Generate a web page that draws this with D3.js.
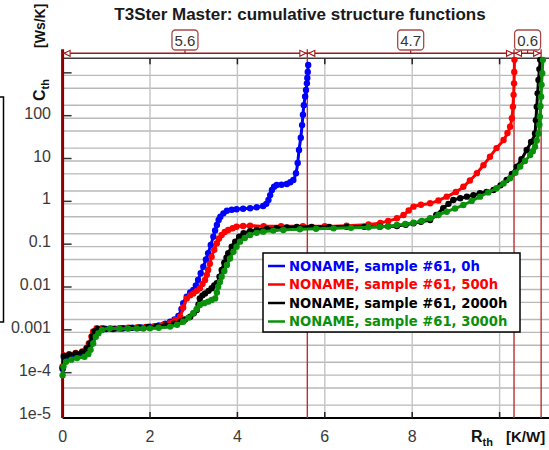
<!DOCTYPE html>
<html><head><meta charset="utf-8">
<script src="https://cdn.jsdelivr.net/npm/d3@7"></script>
<style>body{margin:0;background:#fff}svg{display:block}</style>
</head><body><svg id="c" width="549" height="450"></svg>
<script>
const chartTitle = "T3Ster Master: cumulative structure functions";
const seriesNames = ["NONAME, sample #61, 0h", "NONAME, sample #61, 500h", "NONAME, sample #61, 2000h", "NONAME, sample #61, 3000h"];
const seriesColors = ["#0000ff", "#ff0000", "#000000", "#0a900a"];
const xTickValues = [0, 2, 4, 6, 8];
const xGridValues = [2, 4, 6, 8, 10];
const yTickValues = [1e-5, 1e-4, 1e-3, 1e-2, 0.1, 1, 10, 100];
const yTickLabels = ["1e-5", "1e-4", "0.001", "0.01", "0.1", "1", "10", "100"];
const markerR = [0, 5.6, 10.33, 10.95];

const data0h = [[0,1.4e-4],[0.03,2.6e-4],[0.15,2.7e-4],[0.3,2.9e-4],[0.45,3.2e-4],[0.55,3.8e-4],[0.62,5.2e-4],[0.68,8e-4],[0.75,1.05e-3],[0.85,1.15e-3],[1.0,1.2e-3],[1.2,1.22e-3],[1.4,1.25e-3],[1.6,1.28e-3],[1.8,1.3e-3],[2.0,1.35e-3],[2.2,1.45e-3],[2.35,1.6e-3],[2.46,1.77e-3],[2.56,2.0e-3],[2.65,2.4e-3],[2.72,3.5e-3],[2.76,4.8e-3],[2.84,6.8e-3],[2.92,8.5e-3],[2.99,9.8e-3],[3.05,0.0125],[3.1,0.0167],[3.16,0.024],[3.22,0.034],[3.28,0.05],[3.33,0.07],[3.39,0.11],[3.45,0.17],[3.49,0.24],[3.53,0.32],[3.57,0.42],[3.61,0.5],[3.68,0.6],[3.76,0.69],[3.87,0.73],[3.98,0.75],[4.13,0.77],[4.29,0.79],[4.44,0.83],[4.59,0.89],[4.66,1.0],[4.71,1.23],[4.75,1.6],[4.79,2.1],[4.84,2.5],[4.9,2.75],[5.01,2.8],[5.13,2.9],[5.21,3.2],[5.28,3.6],[5.34,5.2],[5.38,9],[5.41,18],[5.45,35],[5.48,69],[5.5,120],[5.52,200],[5.55,320],[5.57,455],[5.59,650],[5.6,870],[5.61,1200],[5.62,1750]];
const data500h = [[0,1.6e-4],[0.03,2.9e-4],[0.15,3.1e-4],[0.3,3.3e-4],[0.45,3.6e-4],[0.55,4.3e-4],[0.6,5.5e-4],[0.66,8e-4],[0.7,1.05e-3],[0.78,1.25e-3],[0.9,1.25e-3],[1.1,1.22e-3],[1.3,1.25e-3],[1.5,1.28e-3],[1.7,1.3e-3],[1.9,1.33e-3],[2.1,1.4e-3],[2.3,1.5e-3],[2.46,1.63e-3],[2.58,1.95e-3],[2.69,2.32e-3],[2.76,3.8e-3],[2.84,6.2e-3],[2.92,7.3e-3],[2.99,8.1e-3],[3.07,9.3e-3],[3.14,0.0107],[3.2,0.0135],[3.26,0.0167],[3.3,0.022],[3.33,0.0286],[3.37,0.04],[3.41,0.058],[3.47,0.085],[3.53,0.12],[3.58,0.155],[3.64,0.187],[3.71,0.22],[3.79,0.245],[3.89,0.27],[3.98,0.293],[4.13,0.305],[4.29,0.31],[4.6,0.3],[5.0,0.3],[5.5,0.3],[6.0,0.3],[6.5,0.31],[7.0,0.33],[7.27,0.36],[7.45,0.4],[7.65,0.46],[7.8,0.55],[7.92,0.7],[8.03,0.86],[8.2,0.95],[8.41,1.03],[8.6,1.2],[8.79,1.47],[9.0,1.9],[9.17,2.5],[9.32,3.5],[9.48,5.2],[9.63,8],[9.78,12.6],[9.93,20],[10.09,31],[10.18,45],[10.24,63],[10.28,100],[10.305,185],[10.32,350],[10.33,650],[10.335,1200],[10.34,2300]];
const data2000h = [[0,1.5e-4],[0.03,2.8e-4],[0.15,3.0e-4],[0.3,3.2e-4],[0.45,3.5e-4],[0.55,4.2e-4],[0.62,5.5e-4],[0.68,8e-4],[0.73,1.05e-3],[0.8,1.2e-3],[0.95,1.22e-3],[1.15,1.2e-3],[1.35,1.23e-3],[1.55,1.27e-3],[1.75,1.3e-3],[1.95,1.33e-3],[2.15,1.38e-3],[2.35,1.45e-3],[2.55,1.6e-3],[2.69,1.77e-3],[2.8,2.0e-3],[2.92,2.32e-3],[3.0,2.8e-3],[3.07,3.33e-3],[3.11,4.5e-3],[3.14,6.2e-3],[3.2,7.3e-3],[3.26,8.1e-3],[3.34,9.3e-3],[3.41,0.0107],[3.47,0.0125],[3.53,0.014],[3.59,0.02],[3.64,0.0286],[3.7,0.042],[3.75,0.055],[3.79,0.07],[3.87,0.1],[3.95,0.13],[4.04,0.17],[4.14,0.205],[4.29,0.23],[4.44,0.245],[4.67,0.26],[4.9,0.269],[5.13,0.28],[5.36,0.29],[5.7,0.29],[6.1,0.29],[6.5,0.29],[6.9,0.29],[7.26,0.293],[7.45,0.298],[7.65,0.304],[7.85,0.325],[8.03,0.352],[8.2,0.38],[8.41,0.42],[8.55,0.55],[8.71,0.79],[8.83,1.0],[8.94,1.23],[9.1,1.35],[9.25,1.47],[9.4,1.6],[9.55,1.76],[9.7,1.9],[9.86,2.1],[10.02,2.7],[10.16,3.6],[10.28,5],[10.39,7.4],[10.5,11],[10.62,18],[10.72,28],[10.81,44],[10.83,90],[10.85,185],[10.87,380],[10.89,780],[10.91,1400],[10.93,2300]];
const data3000h = [[0,1.0e-4],[0.02,1.6e-4],[0.08,2.06e-4],[0.2,2.3e-4],[0.33,2.5e-4],[0.5,2.7e-4],[0.59,3.1e-4],[0.64,3.9e-4],[0.7,5.5e-4],[0.76,7.9e-4],[0.82,9.5e-4],[0.9,1.13e-3],[1.08,1.24e-3],[1.3,1.22e-3],[1.5,1.22e-3],[1.7,1.23e-3],[1.85,1.23e-3],[2.0,1.24e-3],[2.2,1.28e-3],[2.46,1.36e-3],[2.62,1.5e-3],[2.76,1.77e-3],[2.88,2.2e-3],[2.99,2.79e-3],[3.07,3.5e-3],[3.14,4.35e-3],[3.24,4.8e-3],[3.33,5.2e-3],[3.41,5.7e-3],[3.49,6.2e-3],[3.53,8.5e-3],[3.56,0.0116],[3.6,0.015],[3.64,0.0199],[3.7,0.027],[3.76,0.0373],[3.83,0.053],[3.91,0.076],[3.98,0.1],[4.06,0.131],[4.17,0.16],[4.29,0.187],[4.44,0.21],[4.59,0.224],[4.82,0.237],[5.05,0.245],[5.43,0.255],[5.8,0.262],[6.2,0.268],[6.6,0.275],[7.0,0.283],[7.26,0.29],[7.45,0.3],[7.65,0.32],[7.84,0.34],[8.03,0.363],[8.22,0.4],[8.41,0.46],[8.6,0.55],[8.79,0.656],[8.98,0.78],[9.17,0.94],[9.36,1.17],[9.55,1.47],[9.74,1.85],[9.93,2.31],[10.09,3.0],[10.24,3.95],[10.36,5.3],[10.47,7.4],[10.58,10],[10.7,13.8],[10.76,17],[10.81,21.6],[10.85,30],[10.89,44],[10.91,70],[10.92,108],[10.935,190],[10.95,318],[10.96,600],[10.975,1117],[10.99,2300]];
const allSeries = [data0h, data500h, data2000h, data3000h];

const svg = d3.select("#c");
const W = 549, H = 450;
const x = d3.scaleLinear().domain([0, 11.05]).range([62.6, 545.5]);
const y = d3.scaleLog().domain([1e-5, 2500]).range([418, 58.3]);
const plotRight = 549, plotTop = 58.3, plotBottom = 418;

svg.append("rect").attr("width", W).attr("height", H).attr("fill", "#fff");

svg.append("text").attr("x", 300).attr("y", 20).attr("text-anchor", "middle")
  .attr("font-family", "'Liberation Sans', Arial, sans-serif").attr("font-weight", "bold")
  .attr("font-size", 17).attr("fill", "#1a1a1a").text(chartTitle);

svg.append("rect").attr("x", -10).attr("y", 97).attr("width", 13.5).attr("height", 225)
  .attr("fill", "none").attr("stroke", "#000").attr("stroke-width", 1.5);

const gridY = [];
for (let k = -5; k <= 3; k++) [1, 2, 5].forEach(m => { const v = m * Math.pow(10, k); if (v > 1e-5 && v <= 1000) gridY.push(v); });
svg.append("g").selectAll("line").data(gridY).join("line")
  .attr("x1", x(0)).attr("x2", plotRight).attr("y1", d => y(d)).attr("y2", d => y(d))
  .attr("stroke", "#b9b9b9").attr("stroke-width", 1.4);
svg.append("g").selectAll("line").data(xGridValues).join("line")
  .attr("x1", d => x(d)).attr("x2", d => x(d)).attr("y1", plotTop).attr("y2", plotBottom)
  .attr("stroke", "#c4c4c4").attr("stroke-width", 1.4);

svg.append("line").attr("x1", x(0)).attr("x2", plotRight).attr("y1", plotTop).attr("y2", plotTop)
  .attr("stroke", "#3c3c3c").attr("stroke-width", 1.5);
svg.append("line").attr("x1", x(0)).attr("x2", plotRight).attr("y1", plotBottom).attr("y2", plotBottom)
  .attr("stroke", "#000").attr("stroke-width", 2);
svg.append("g").selectAll("line").data(xGridValues).join("line")
  .attr("x1", d => x(d)).attr("x2", d => x(d)).attr("y1", plotTop).attr("y2", plotTop + 6)
  .attr("stroke", "#222").attr("stroke-width", 1.5);
svg.append("g").selectAll("line").data(xGridValues).join("line")
  .attr("x1", d => x(d)).attr("x2", d => x(d)).attr("y1", plotBottom).attr("y2", plotBottom - 6)
  .attr("stroke", "#222").attr("stroke-width", 1.5);
const yDecades = [1e-4, 1e-3, 1e-2, 0.1, 1, 10, 100, 1000];
svg.append("g").selectAll("line").data(yDecades).join("line")
  .attr("x1", x(0)).attr("x2", x(0) + 9).attr("y1", d => y(d) - 2.5).attr("y2", d => y(d) - 2.5)
  .attr("stroke", "#333").attr("stroke-width", 1.5);

svg.append("g").selectAll("text").data(yTickValues).join("text")
  .attr("x", 51).attr("y", d => y(d) - 5).attr("text-anchor", "end").attr("dominant-baseline", "central")
  .attr("font-family", "'Liberation Sans', Arial, sans-serif").attr("font-size", 16).attr("fill", "#3a3a3a")
  .text((d, i) => yTickLabels[i]);
svg.append("g").selectAll("text").data(xTickValues).join("text")
  .attr("x", d => x(d)).attr("y", 442).attr("text-anchor", "middle")
  .attr("font-family", "'Liberation Sans', Arial, sans-serif").attr("font-size", 16).attr("fill", "#3a3a3a")
  .text(d => d);

const xl = svg.append("text").attr("x", 471).attr("y", 442)
  .attr("font-family", "'Liberation Sans', Arial, sans-serif").attr("font-weight", "bold").attr("fill", "#111");
xl.append("tspan").attr("font-size", 16).text("R");
xl.append("tspan").attr("font-size", 11).attr("dy", 4).text("th");
svg.append("text").attr("x", 506).attr("y", 442)
  .attr("font-family", "'Liberation Sans', Arial, sans-serif").attr("font-weight", "bold").attr("font-size", 15)
  .attr("fill", "#111").text("[K/W]");
const yg = svg.append("g").attr("transform", "translate(45,101) rotate(-90)");
const yl = yg.append("text").attr("x", 0).attr("y", 0)
  .attr("font-family", "'Liberation Sans', Arial, sans-serif").attr("font-weight", "bold").attr("fill", "#111");
yl.append("tspan").attr("font-size", 16).text("C");
yl.append("tspan").attr("font-size", 11).attr("dy", 4).text("th");
yg.append("text").attr("x", 53).attr("y", 0)
  .attr("font-family", "'Liberation Sans', Arial, sans-serif").attr("font-weight", "bold").attr("font-size", 14)
  .attr("fill", "#111").text("[Ws/K]");

const dimY = 53.3, mk = "#a01818";
svg.append("g").selectAll("line").data(markerR).join("line")
  .attr("x1", d => x(d)).attr("x2", d => x(d)).attr("y1", dimY - 4).attr("y2", plotBottom)
  .attr("stroke", (d, i) => i === 0 ? "#8e0000" : "#b8302f")
  .attr("stroke-width", (d, i) => i === 0 ? 3 : 1.4);

svg.append("line").attr("x1", x(markerR[0])).attr("x2", x(markerR[markerR.length - 1]))
  .attr("y1", dimY).attr("y2", dimY).attr("stroke", mk).attr("stroke-width", 1.6);
const segs = d3.pairs(markerR);
const dg = svg.append("g");
segs.forEach(([a, b]) => {
  const xa = x(a), xb = x(b), mid = (xa + xb) / 2;
  dg.append("path").attr("d", `M${xa + 1.5},${dimY} L${xa + 7.5},${dimY - 3} L${xa + 7.5},${dimY + 3} Z`)
    .attr("fill", "#fff").attr("stroke", mk).attr("stroke-width", 1.1);
  dg.append("path").attr("d", `M${xb - 1.5},${dimY} L${xb - 7.5},${dimY - 3} L${xb - 7.5},${dimY + 3} Z`)
    .attr("fill", "#fff").attr("stroke", mk).attr("stroke-width", 1.1);
  dg.append("line").attr("x1", mid).attr("x2", mid).attr("y1", 50).attr("y2", dimY).attr("stroke", mk).attr("stroke-width", 1.2);
  dg.append("rect").attr("x", mid - 13).attr("y", 30).attr("width", 26).attr("height", 20).attr("rx", 3.5)
    .attr("fill", "#fff").attr("stroke", "#a84848").attr("stroke-width", 1.3);
  dg.append("text").attr("x", mid).attr("y", 40.5).attr("text-anchor", "middle").attr("dominant-baseline", "central")
    .attr("font-family", "'Liberation Sans', Arial, sans-serif").attr("font-size", 15).attr("fill", "#333")
    .text((b - a).toFixed(1));
});

const line = d3.line().x(d => x(d[0])).y(d => y(d[1])).curve(d3.curveMonotoneX);
allSeries.forEach((s, i) => {
  const g = svg.append("g");
  g.append("path").datum(s).attr("d", line).attr("fill", "none")
    .attr("stroke", seriesColors[i]).attr("stroke-width", 3).attr("stroke-linejoin", "round");
  g.selectAll("circle").data(s).join("circle")
    .attr("cx", d => x(d[0])).attr("cy", d => y(d[1])).attr("r", 3.2).attr("fill", seriesColors[i]);
});

const lg = svg.append("g");
lg.append("rect").attr("x", 263).attr("y", 253).attr("width", 257).attr("height", 79)
  .attr("fill", "#fff").attr("stroke", "#000").attr("stroke-width", 1.5);
seriesNames.forEach((n, i) => {
  const cy = 266 + i * 18.5;
  lg.append("line").attr("x1", 268).attr("x2", 285).attr("y1", cy).attr("y2", cy)
    .attr("stroke", seriesColors[i]).attr("stroke-width", 2.5);
  lg.append("text").attr("x", 289).attr("y", cy).attr("dominant-baseline", "central")
    .attr("font-family", "'DejaVu Sans', Verdana, sans-serif").attr("font-weight", "bold").attr("font-size", 13.2)
    .attr("fill", seriesColors[i]).text(n);
});
</script></body></html>
